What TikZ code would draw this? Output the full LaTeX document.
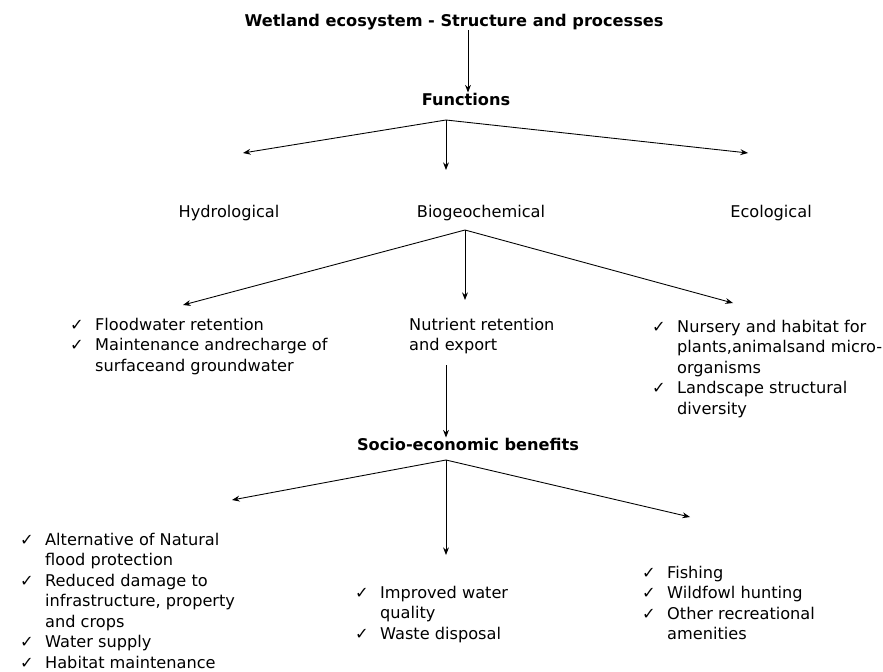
\documentclass[tikz,border=0pt]{standalone}
\usepackage{fontspec}
\setmainfont{DejaVu Sans}
\usepackage{array}
\usetikzlibrary{arrows.meta,positioning}
\newcommand{\tick}{\makebox[21.3pt][l]{✓}}

\begin{document}
\begin{tikzpicture}[x=0.3mm, y=-0.3mm,
    lbl/.style={font=\fontsize{13.8}{17.5}\selectfont, inner sep=0pt},
    head/.style={lbl, font=\fontsize{13.8}{17.5}\selectfont\bfseries},
    lst/.style={lbl, anchor=base west, align=left},
    arr/.style={-{Stealth[length=6.5pt,width=5pt]}, line width=0.75pt}]
            \useasboundingbox (0,0) rectangle (883,671);

            % Top
            \node[head] (title) at (454,22) {Wetland ecosystem - Structure and processes};
            \node[head] (func) at (466,99) {Functions};
            \draw[arr] (title.south -| 468,0) -- (func.north -| 468,0);

            % Functions
            \node[lbl] (hydro) at (229,213) {Hydrological};
            \node[lbl] (biogeo) at (481,213) {Biogeochemical};
            \node[lbl] (eco) at (771,213) {Ecological};

            \coordinate (fb) at (446,120);
            \coordinate (fh) at (243,153);
            \coordinate (fbio) at (446,170);
            \coordinate (fe) at (748,153);
            \draw[arr] (fb) -- (fh);
            \draw[arr] (fb) -- (fbio);
            \draw[arr] (fb) -- (fe);

            % Processes
            \node[lst] (flood) at (70,330) {\begin{tabular}[t]{@{}l@{}l@{}}
                \tick & Floodwater retention\\
                \tick & Maintenance andrecharge of\\
                      & surfaceand groundwater
            \end{tabular}};
            \node[lst] (nutrient) at (409,330) {\begin{tabular}[t]{@{}l@{}}
                Nutrient retention\\
                and export
            \end{tabular}};
            \node[lst] (nursery) at (652,332) {\begin{tabular}[t]{@{}l@{}l@{}}
                \tick & Nursery and habitat for\\
                      & plants,animalsand micro-\\
                      & organisms\\
                \tick & Landscape structural\\
                      & diversity
            \end{tabular}};

            \coordinate (bb) at (465,230);
            \coordinate (bl) at (183,305);
            \coordinate (bm) at (465,300);
            \coordinate (br) at (733,303);
            \draw[arr] (bb) -- (bl);
            \draw[arr] (bb) -- (bm);
            \draw[arr] (bb) -- (br);

            % Benefits
            \node[head] (socio) at (468,444) {Socio-economic benefits};
            \coordinate (nt) at (446,365);
            \draw[arr] (nt) -- (nt |- socio.north);

            \node[lst] (protect) at (20,545) {\begin{tabular}[t]{@{}l@{}l@{}}
                \tick & Alternative of Natural\\
                      & flood protection\\
                \tick & Reduced damage to\\
                      & infrastructure, property\\
                      & and crops\\
                \tick & Water supply\\
                \tick & Habitat maintenance
            \end{tabular}};
            \node[lst] (quality) at (355,598) {\begin{tabular}[t]{@{}l@{}l@{}}
                \tick & Improved water\\
                      & quality\\
                \tick & Waste disposal
            \end{tabular}};
            \node[lst] (fishing) at (642,578) {\begin{tabular}[t]{@{}l@{}l@{}}
                \tick & Fishing\\
                \tick & Wildfowl hunting\\
                \tick & Other recreational\\
                      & amenities
            \end{tabular}};

            \coordinate (sb) at (446,460);
            \coordinate (sl) at (232,500);
            \coordinate (sm) at (446,555);
            \coordinate (sr) at (690,517);
            \draw[arr] (sb) -- (sl);
            \draw[arr] (sb) -- (sm);
            \draw[arr] (sb) -- (sr);
        \end{tikzpicture}
\end{document}
